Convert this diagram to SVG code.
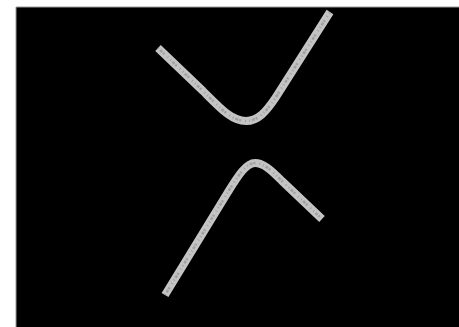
<svg xmlns="http://www.w3.org/2000/svg" width="459" height="327" viewBox="0 0 459 327">
  <style>
    .band{fill:none;stroke:#c4c4c4;stroke-width:8;stroke-linecap:butt;stroke-linejoin:round}
    .tex{fill:none;stroke:#8a8a8a;stroke-width:2.5;stroke-dasharray:1 2 3 1 2 4 1 3;opacity:0.6}
  </style>
  <rect x="0" y="0" width="459" height="327" fill="#ffffff"/>
  <rect x="16" y="7" width="443" height="320" fill="#000000"/>
  <path d="M16,327 V7 H459" fill="none" stroke="#9a9a9a" stroke-width="1"/>
  <g id="upper-curve">
    <path class="band" d="M158,48 L203,91 C222,110 232,121 246,121 C258,121 266,112 276,97 L330,12"/>
    <path class="tex" d="M158,48 L203,91 C222,110 232,121 246,121 C258,121 266,112 276,97 L330,12"/>
  </g>
  <g id="lower-curve">
    <path class="band" d="M165,295 L228,192 C238,176 246,163 255,163 C263,163 270,169 282,181 L322,219"/>
    <path class="tex" d="M165,295 L228,192 C238,176 246,163 255,163 C263,163 270,169 282,181 L322,219"/>
  </g>
</svg>
